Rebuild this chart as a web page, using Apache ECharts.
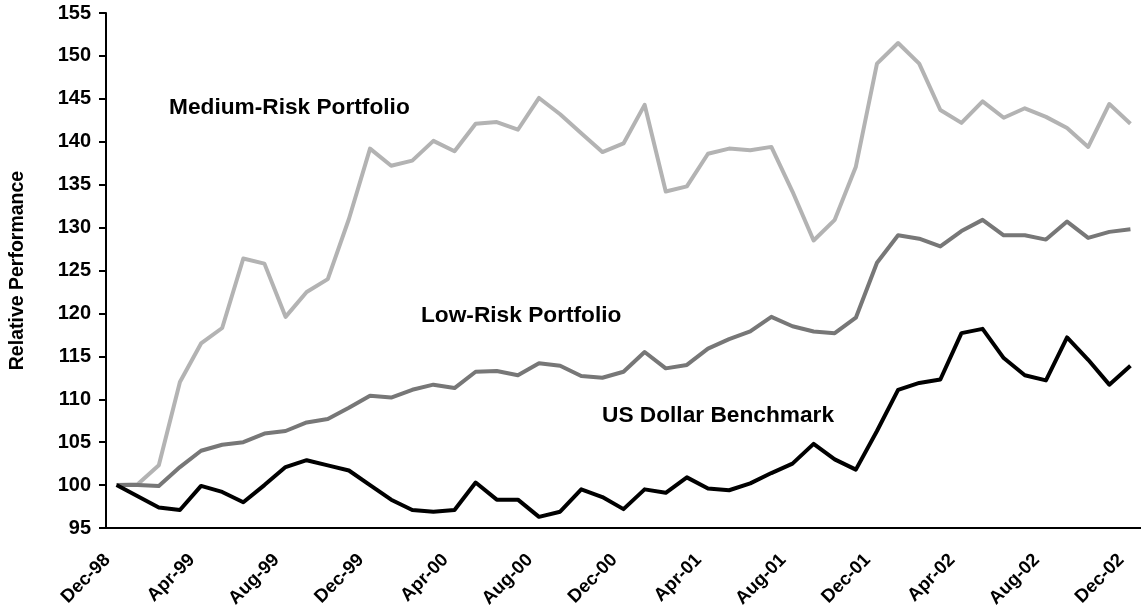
<!DOCTYPE html>
<html>
<head>
<meta charset="utf-8">
<title>Relative Performance</title>
<script src="https://cdn.jsdelivr.net/npm/echarts@6/dist/echarts.min.js"></script>
<style>
  html, body { margin: 0; padding: 0; background: #fff; }
  #chart { width: 1141px; height: 611px; }
</style>
</head>
<body>
<div id="chart"></div>
<script>
// month labels, Dec-98 .. Dec-02
const months = [
  'Dec-98',
  'Jan-99', 'Feb-99', 'Mar-99', 'Apr-99', 'May-99', 'Jun-99', 'Jul-99', 'Aug-99', 'Sep-99', 'Oct-99', 'Nov-99', 'Dec-99',
  'Jan-00', 'Feb-00', 'Mar-00', 'Apr-00', 'May-00', 'Jun-00', 'Jul-00', 'Aug-00', 'Sep-00', 'Oct-00', 'Nov-00', 'Dec-00',
  'Jan-01', 'Feb-01', 'Mar-01', 'Apr-01', 'May-01', 'Jun-01', 'Jul-01', 'Aug-01', 'Sep-01', 'Oct-01', 'Nov-01', 'Dec-01',
  'Jan-02', 'Feb-02', 'Mar-02', 'Apr-02', 'May-02', 'Jun-02', 'Jul-02', 'Aug-02', 'Sep-02', 'Oct-02', 'Nov-02', 'Dec-02'
];

const mediumRisk = [
  100, 100.1, 102.3, 112.0, 116.5, 118.3, 126.4, 125.8, 119.6, 122.5, 124.0, 131.0, 139.2,
  137.2, 137.8, 140.1, 138.9, 142.1, 142.3, 141.4, 145.1, 143.2, 141.0, 138.8, 139.8,
  144.3, 134.2, 134.8, 138.6, 139.2, 139.0, 139.4, 134.2, 128.5, 130.9, 137.1, 149.1,
  151.5, 149.1, 143.7, 142.2, 144.7, 142.8, 143.9, 142.9, 141.6, 139.4, 144.4, 142.1
];

const lowRisk = [
  100, 100, 99.9, 102.1, 104.0, 104.7, 105.0, 106.0, 106.3, 107.3, 107.7, 109.0, 110.4,
  110.2, 111.1, 111.7, 111.3, 113.2, 113.3, 112.8, 114.2, 113.9, 112.7, 112.5, 113.2,
  115.5, 113.6, 114.0, 115.9, 117.0, 117.9, 119.6, 118.5, 117.9, 117.7, 119.5, 125.9,
  129.1, 128.7, 127.8, 129.6, 130.9, 129.1, 129.1, 128.6, 130.7, 128.8, 129.5, 129.8
];

const usdBenchmark = [
  100, 98.7, 97.4, 97.1, 99.9, 99.2, 98.0, 100.0, 102.1, 102.9, 102.3, 101.7, 100.0,
  98.3, 97.1, 96.9, 97.1, 100.3, 98.3, 98.3, 96.3, 96.9, 99.5, 98.6, 97.2,
  99.5, 99.1, 100.9, 99.6, 99.4, 100.2, 101.4, 102.5, 104.8, 103.0, 101.8, 106.3,
  111.1, 111.9, 112.3, 117.7, 118.2, 114.8, 112.8, 112.2, 117.2, 114.6, 111.7, 113.9
];

const FONT = '"Liberation Sans", Arial, Helvetica, sans-serif';

const chart = echarts.init(document.getElementById('chart'), null, { renderer: 'canvas' });

const option = {
  animation: false,
  backgroundColor: '#ffffff',
  grid: {
    left: 105,
    top: 13,
    bottom: 83,
    width: 1043
  },
  xAxis: {
    type: 'category',
    data: months,
    boundaryGap: true,
    axisLine: { lineStyle: { color: '#000', width: 2 } },
    axisTick: { interval: 3, length: 7, lineStyle: { color: '#000', width: 2 } },
    axisLabel: {
      interval: 3,
      rotate: 45,
      margin: 20,
      padding: [0, 13, 0, 0],
      color: '#000',
      fontFamily: FONT,
      fontWeight: 'bold',
      fontSize: 18.5
    },
    splitLine: { show: false }
  },
  yAxis: {
    type: 'value',
    min: 95,
    max: 155,
    interval: 5,
    name: 'Relative Performance',
    nameLocation: 'middle',
    nameRotate: 90,
    nameGap: 78,
    nameTextStyle: { color: '#000', fontFamily: FONT, fontWeight: 'bold', fontSize: 19.5 },
    axisLine: { show: true, lineStyle: { color: '#000', width: 2 } },
    axisTick: { show: true, length: 7, lineStyle: { color: '#000', width: 2 } },
    axisLabel: { margin: 15, color: '#000', fontFamily: FONT, fontWeight: 'bold', fontSize: 20 },
    splitLine: { show: false }
  },
  series: [
    {
      name: 'Medium-Risk Portfolio',
      type: 'line',
      data: mediumRisk,
      symbol: 'none',
      lineStyle: { color: '#b3b3b3', width: 4, join: 'round' },
      z: 2
    },
    {
      name: 'Low-Risk Portfolio',
      type: 'line',
      data: lowRisk,
      symbol: 'none',
      lineStyle: { color: '#777777', width: 4, join: 'round' },
      z: 3
    },
    {
      name: 'US Dollar Benchmark',
      type: 'line',
      data: usdBenchmark,
      symbol: 'none',
      lineStyle: { color: '#000000', width: 4, join: 'round' },
      z: 4
    }
  ],
  graphic: [
    { type: 'text', x: 169, y: 107.5, style: { text: 'Medium-Risk Portfolio', fill: '#000', font: 'bold 22.7px ' + FONT, align: 'left', verticalAlign: 'middle' } },
    { type: 'text', x: 421, y: 315.5, style: { text: 'Low-Risk Portfolio', fill: '#000', font: 'bold 22.7px ' + FONT, align: 'left', verticalAlign: 'middle' } },
    { type: 'text', x: 602, y: 415.5, style: { text: 'US Dollar Benchmark', fill: '#000', font: 'bold 22.7px ' + FONT, align: 'left', verticalAlign: 'middle' } }
  ]
};

chart.setOption(option);
</script>
</body>
</html>
